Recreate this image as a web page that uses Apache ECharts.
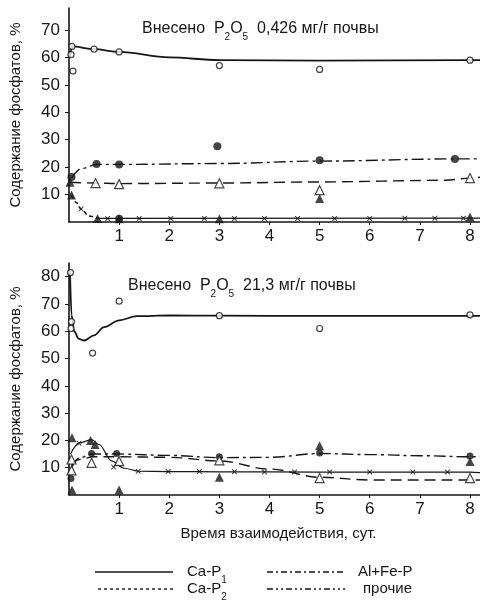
<!DOCTYPE html>
<html><head><meta charset="utf-8">
<script src="https://cdn.jsdelivr.net/npm/echarts@6/dist/echarts.min.js"></script>
<style>html,body{margin:0;padding:0;background:#fff}#c{width:480px;height:601px}</style>
</head><body><div id="c"></div>
<script>
// ---- data ----
const xTickLabels = ['1','2','3','4','5','6','7','8'];
const yTickStep = 10;

// top panel: 0,426 mg/g
const topP1Curve = [[0.02,60],[0.06,64],[0.5,63],[1,62],[2,60],[3,59],[5,58.8],[8,59],[8.2,59]];
const topP1Points = [[0.06,64],[0.04,61],[0.08,55],[0.5,63],[1,62],[3,57],[5,55.6],[8,59]];
const topAlFeCurve = [[0.05,16],[0.25,19.5],[0.55,21],[1,21],[3,21.3],[5,22.2],[7.7,23],[8.2,23]];
const topAlFePoints = [[0.05,16.4],[0.55,21.1],[1,21],[2.96,27.6],[5,22.5],[7.7,23],[1,1.2]];
const topOtherCurve = [[0.02,14.5],[0.5,14.2],[1,14],[3,14.2],[5,14.6],[7.5,15.2],[8,16],[8.2,16.3]];
const topOtherPoints = [[0.53,14.2],[1,13.8],[3,14.1],[5,11.6],[8,16]];
const topP2Curve = [[0.05,9.8],[0.15,7],[0.24,4.7],[0.4,2.2],[0.57,1.3]];
const topP2Points = [[0.05,9.8],[0.02,14.5],[0.57,1.3],[1,1.2],[3,1.2],[5,8.6],[8,1.8]];
const topXLine = [[0.57,1.3],[8.2,1.4]];
const topXMarks = [[0.24,4.7],[0.77,1.3],[1.4,1.3],[2.03,1.3],[2.7,1.3],[3.3,1.3],[3.9,1.3],[4.56,1.3],[5.3,1.3],[6.0,1.3],[6.7,1.4],[7.3,1.4],[7.87,1.4]];

// bottom panel: 21,3 mg/g
const botP1Curve = [[0.02,82],[0.05,66],[0.1,60],[0.2,57.2],[0.3,56.6],[0.5,58.5],[0.7,61.5],[1,64],[1.35,65.5],[2,65.8],[3,65.7],[5,65.6],[8,65.6],[8.2,65.6]];
const botP1Points = [[0.03,81.5],[0.05,63.5],[0.04,61],[0.47,52],[1,71],[3,65.7],[5,61],[8,66]];
const botAlFeCurve = [[0.05,10],[0.2,13.5],[0.45,15],[1,15],[2,14.5],[3,13.7],[4,13.8],[5,15.2],[6,14.8],[7,14.4],[8,14],[8.2,14]];
const botAlFePoints = [[0.04,6],[0.45,15.2],[0.95,15.2],[3,14],[5,15.4],[8,14.3]];
const botOtherCurve = [[0.05,11],[0.2,13],[0.5,14],[1,14],[2,13.8],[3,12.5],[4,9.5],[5,6.5],[6,5.5],[8,5.5],[8.2,5.5]];
const botOtherPoints = [[0.05,13],[0.05,9],[0.45,11.8],[1,12.4],[3,12.7],[5,6.2],[8,6.2]];
const botP2Curve = [[0.03,15],[0.2,19],[0.45,20.3],[0.6,18.5],[0.85,12.5],[1.1,9.8],[1.4,8.7],[2,8.6],[3,8.5],[5,8.4],[8,8.4],[8.2,8.2]];
const botP2Points = [[0.06,21],[0.43,20],[0.52,18.5],[0.06,1.8],[1,1.8],[3,6.5],[5,18],[8,12.3]];
const botXMarks = [[0.2,19],[0.89,10.3],[1.38,8.7],[1.98,8.6],[2.6,8.6],[3.3,8.5],[3.9,8.4],[4.5,8.4],[5.2,8.4],[6,8.4],[6.86,8.4],[7.55,8.4]];

// ---- styling ----
const FONT = "'Liberation Sans', Arial, sans-serif";
const INK = '#161616';
const XSYM = 'path://M0,0L1.5,0L5,3.5L8.5,0L10,0L10,1.5L6.5,5L10,8.5L10,10L8.5,10L5,6.5L1.5,10L0,10L0,8.5L3.5,5L0,1.5Z';

function line(name, data, dash, width, idx, smooth) {
  return { name, type: 'line', data, xAxisIndex: idx, yAxisIndex: idx, showSymbol: false, symbol: 'none',
    smooth: smooth === undefined ? 0.35 : smooth, smoothMonotone: 'x', silent: true, z: 2,
    lineStyle: { color: INK, width, type: dash } };
}
function pts(name, data, symbol, filled, size, idx) {
  return { name, type: 'scatter', data, xAxisIndex: idx, yAxisIndex: idx, symbol, symbolSize: size, silent: true, z: 3,
    itemStyle: filled ? { color: INK } : { color: '#fff', borderColor: INK, borderWidth: 1.2 } };
}

function xAxis(idx) {
  return { type: 'value', gridIndex: idx, min: 0, max: 8.2, interval: 1,
    axisLine: { show: true, onZero: false, lineStyle: { color: INK, width: 1.6 } },
    axisTick: { show: true, length: 3, lineStyle: { color: INK } },
    splitLine: { show: false },
    axisLabel: { showMinLabel: false, showMaxLabel: false, margin: 6, color: INK, fontSize: 17, fontFamily: FONT,
      formatter: v => (Number.isInteger(v) && v >= 1 && v <= 8) ? xTickLabels[v - 1] : '' },
    name: idx === 1 ? 'Время взаимодействия, сут.' : '', nameLocation: 'middle', nameGap: 31,
    nameTextStyle: { color: INK, fontSize: 15, fontFamily: FONT, padding: [0, 0, 0, 8] } };
}
function yAxis(idx, max) {
  return { type: 'value', gridIndex: idx, min: 0, max, interval: yTickStep,
    axisLine: { show: true, onZero: false, lineStyle: { color: INK, width: 1.6 } },
    axisTick: { show: true, length: 4, lineStyle: { color: INK } },
    splitLine: { show: false },
    axisLabel: { showMinLabel: false, showMaxLabel: false, margin: 9, color: INK, fontSize: 17, fontFamily: FONT },
    name: 'Содержание фосфатов, %', nameLocation: 'middle', nameRotate: 90, nameGap: 46,
    nameTextStyle: { color: INK, fontSize: 15, fontFamily: FONT } };
}

function richSet(size) {
  return {
    a: { fontSize: size, fontFamily: FONT, fontWeight: 'normal', color: INK, lineHeight: 20 },
    s: { fontSize: 10, fontFamily: FONT, fontWeight: 'normal', color: INK, lineHeight: 10, verticalAlign: 'bottom', padding: [0, 0, -3, 0] }
  };
}

const chart = echarts.init(document.getElementById('c'), null, { renderer: 'canvas' });

const legendRows = [
  { y: 572, x1: 95, x2: 173, dash: null, text: '{a|Ca-P}{s|1}', tx: 187 },
  { y: 572, x1: 267, x2: 345, dash: [6, 3, 2, 3], text: '{a|Al+Fe-P}', tx: 358 },
  { y: 589, x1: 98, x2: 173, dash: [3, 3], text: '{a|Ca-P}{s|2}', tx: 187 },
  { y: 589, x1: 267, x2: 345, dash: [6, 3, 2, 3, 2, 3], text: '{a|прочие}', tx: 363 }
];
const graphic = [];
legendRows.forEach(r => {
  graphic.push({ type: 'line', shape: { x1: r.x1, y1: r.y, x2: r.x2, y2: r.y },
    style: { stroke: INK, lineWidth: 1.4, lineDash: r.dash || null } });
  graphic.push({ type: 'text', x: r.tx, y: r.y, style: { text: r.text, rich: richSet(15), fill: INK, verticalAlign: 'middle' } });
});

chart.setOption({
  animation: false,
  backgroundColor: '#fff',
  title: [
    { text: '{a|Внесено  P}{s|2}{a|O}{s|5}{a|  0,426 мг/г почвы}', left: 142, top: 19, padding: 0,
      textStyle: { fontWeight: 'normal', rich: richSet(16) } },
    { text: '{a|Внесено  P}{s|2}{a|O}{s|5}{a|  21,3 мг/г почвы}', left: 128, top: 276, padding: 0,
      textStyle: { fontWeight: 'normal', rich: richSet(16) } }
  ],
  grid: [
    { left: 65, top: 8, width: 415, height: 214 },
    { left: 65, top: 263, width: 415, height: 232 }
  ],
  xAxis: [xAxis(0), xAxis(1)],
  yAxis: [yAxis(0, 78), yAxis(1, 85)],
  graphic,
  series: [
    line('Ca-P1', topP1Curve, 'solid', 1.8, 0),
    pts('Ca-P1 точки', topP1Points, 'circle', false, 6, 0),
    line('Al+Fe-P', topAlFeCurve, [12, 4, 3, 4], 1.4, 0),
    pts('Al+Fe-P точки', topAlFePoints, 'circle', true, 8, 0),
    line('прочие', topOtherCurve, [11, 6], 1.4, 0),
    pts('прочие точки', topOtherPoints, 'triangle', false, 9, 0),
    line('Ca-P2', topP2Curve, [4, 3], 1.5, 0),
    pts('Ca-P2 точки', topP2Points, 'triangle', true, 9, 0),
    line('x-линия', topXLine, 'solid', 1.2, 0, false),
    pts('x точки', topXMarks, XSYM, true, 5, 0),

    line('Ca-P1 ', botP1Curve, 'solid', 1.8, 1),
    pts('Ca-P1 точки ', botP1Points, 'circle', false, 6, 1),
    line('Al+Fe-P ', botAlFeCurve, [12, 4, 3, 4], 1.4, 1),
    pts('Al+Fe-P точки ', botAlFePoints, 'circle', true, 7, 1),
    line('прочие ', botOtherCurve, [11, 6], 1.4, 1),
    pts('прочие точки ', botOtherPoints, 'triangle', false, 9, 1),
    line('Ca-P2 ', botP2Curve, 'solid', 1.2, 1),
    pts('Ca-P2 точки ', botP2Points, 'triangle', true, 9, 1),
    pts('x точки ', botXMarks, XSYM, true, 5, 1)
  ]
});
</script>
</body></html>
